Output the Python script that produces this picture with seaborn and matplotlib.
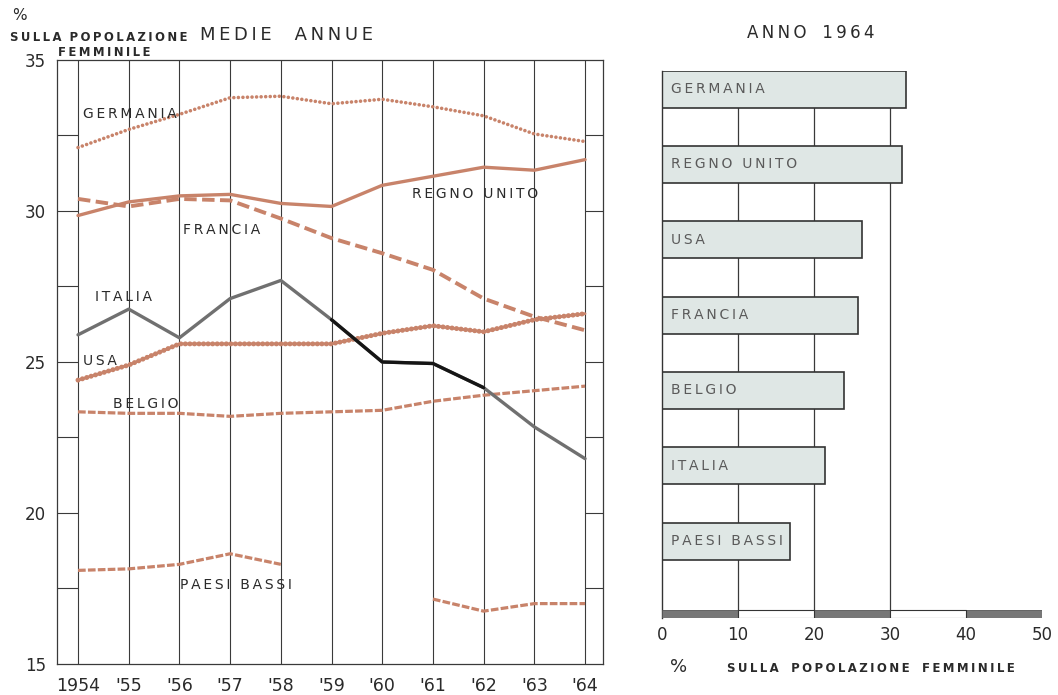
import numpy as np
import pandas as pd
import matplotlib
matplotlib.use("Agg")
import matplotlib.pyplot as plt
import seaborn as sns

# Data
years = [1954, 1955, 1956, 1957, 1958, 1959, 1960, 1961, 1962, 1963, 1964]
year_labels = ["1954", "'55", "'56", "'57", "'58", "'59", "'60", "'61", "'62", "'63", "'64"]

germania = [32.1, 32.7, 33.2, 33.75, 33.8, 33.55, 33.7, 33.45, 33.15, 32.55, 32.3]
regno_unito = [29.85, 30.3, 30.5, 30.55, 30.25, 30.15, 30.85, 31.15, 31.45, 31.35, 31.7]
francia = [30.4, 30.15, 30.4, 30.35, 29.75, 29.1, 28.6, 28.05, 27.1, 26.5, 26.05]
usa = [24.4, 24.9, 25.6, 25.6, 25.6, 25.6, 25.95, 26.2, 26.0, 26.4, 26.6]
italia = [25.9, 26.75, 25.8, 27.1, 27.7, 26.4, 25.0, 24.95, 24.15, 22.85, 21.8]
belgio = [23.35, 23.3, 23.3, 23.2, 23.3, 23.35, 23.4, 23.7, 23.9, 24.05, 24.2]
paesi_bassi = [18.1, 18.15, 18.3, 18.65, 18.3, np.nan, np.nan, 17.15, 16.75, 17.0, 17.0]

bar_countries = ["GERMANIA", "REGNO UNITO", "USA", "FRANCIA", "BELGIO", "ITALIA", "PAESI BASSI"]
bar_values = [32.1, 31.6, 26.3, 25.8, 23.9, 21.5, 16.8]

SALMON = "#c8836a"
GREY_LINE = "#707070"
INK = "#2a2a2a"
BAR_FILL = "#dfe7e5"


def track(s, sep="\u2009"):
    """Fake letter spacing with thin spaces"""
    return sep.join(s)


sns.set_theme(style="white")
plt.rcParams["font.family"] = ["DejaVu Sans"]

fig = plt.figure(figsize=(10.58, 6.95), dpi=100)

# ---------------- left: yearly averages ----------------
ax = fig.add_axes([0.0539, 0.0446, 0.5161, 0.8691])
x_lo, x_hi = 1953.586, 1964.355
ax.set_xlim(x_lo, x_hi)
ax.set_ylim(15, 35)

for yr in years:
    ax.axvline(yr, color="#3a3a3a", lw=0.8, zorder=1)
levels = np.arange(17.5, 35, 2.5)
ax.hlines(levels, x_lo, years[0], color="#3a3a3a", lw=0.8, zorder=1)
ax.hlines(levels, years[-1], x_hi, color="#3a3a3a", lw=0.8, zorder=1)

# Regno Unito - solid
sns.lineplot(x=years, y=regno_unito, ax=ax, color=SALMON, lw=2.4, zorder=3)
# Germania - fine dots
sns.lineplot(x=years, y=germania, ax=ax, color=SALMON, lw=2.6,
             linestyle=(0, (0.01, 1.25)), dash_capstyle="round", zorder=3)
# Francia - long dashes
sns.lineplot(x=years, y=francia, ax=ax, color=SALMON, lw=2.8,
             linestyle=(0, (3.2, 1.4)), zorder=3)
# USA - beaded line
sns.lineplot(x=years, y=usa, ax=ax, color=SALMON, lw=2.0, zorder=3)
sns.lineplot(x=years, y=usa, ax=ax, color=SALMON, lw=3.6,
             linestyle=(0, (0.01, 0.9)), dash_capstyle="round", zorder=3)
# Belgio - short dashes
sns.lineplot(x=years, y=belgio, ax=ax, color=SALMON, lw=2.3,
             linestyle=(0, (2.4, 0.7)), zorder=3)
# Italia - grey, darker in the middle
sns.lineplot(x=years, y=italia, ax=ax, color=GREY_LINE, lw=2.4, zorder=4)
sns.lineplot(x=years[5:9], y=italia[5:9], ax=ax, color="#151515", lw=2.4, zorder=4)
# Paesi Bassi - broken series
pb = pd.DataFrame({"anno": years, "valore": paesi_bassi})
pb["tratto"] = pb["valore"].isna().cumsum()
pb = pb.dropna()
sns.lineplot(data=pb, x="anno", y="valore", units="tratto", estimator=None, ax=ax,
             color=SALMON, lw=2.3, linestyle=(0, (2.4, 0.7)), zorder=3)

series_labels = [
    ("GERMANIA", 1954.10, 33.2),
    ("REGNO UNITO", 1960.58, 30.56),
    ("FRANCIA", 1956.07, 29.37),
    ("ITALIA", 1954.33, 27.15),
    ("USA", 1954.10, 25.03),
    ("BELGIO", 1954.69, 23.6),
    ("PAESI BASSI", 1956.02, 17.6),
]
for name, lx, ly in series_labels:
    ax.text(lx, ly, track(name), fontsize=10, color=INK, ha="left", va="center", zorder=5)

ax.set_xticks(years)
ax.set_xticklabels(year_labels, fontsize=12.5, color=INK)
ax.set_yticks([15, 20, 25, 30, 35])
ax.set_yticklabels(["15", "20", "25", "30", "35"], fontsize=12, color=INK)
ax.tick_params(axis="x", length=0, pad=9)
ax.tick_params(axis="y", length=0, pad=8)
ax.set_xlabel("")
ax.set_ylabel("")
for sp in ax.spines.values():
    sp.set_color("#3a3a3a")
    sp.set_linewidth(0.9)

fig.text(19 / 1058, 1 - 15 / 695, "%", fontsize=11, color=INK, ha="center", va="center")
fig.text(10 / 1058, 1 - 37.5 / 695, track("SULLA") + "  " + track("POPOLAZIONE"),
         fontsize=8.4, fontweight="bold", color=INK, ha="left", va="center")
fig.text(58 / 1058, 1 - 52 / 695, track("FEMMINILE"),
         fontsize=8.4, fontweight="bold", color=INK, ha="left", va="center")
fig.text(200 / 1058, 1 - 35 / 695, track("MEDIE") + "    " + track("ANNUE"),
         fontsize=13, color=INK, ha="left", va="center")

# ---------------- right: year 1964 ----------------
ax2 = fig.add_axes([0.6257, 0.1108, 0.3592, 0.7875])
for g in [10, 20, 30]:
    ax2.axvline(g, color="#3a3a3a", lw=0.9, zorder=0)
sns.barplot(x=bar_values, y=bar_countries, orient="h", ax=ax2, color=BAR_FILL,
            edgecolor="#333333", linewidth=1.2, width=0.49, saturation=1, zorder=2)
for i, name in enumerate(bar_countries):
    ax2.text(1.2, i, track(name), fontsize=10, color="#5a5a5a", ha="left", va="center", zorder=3)

ax2.set_xlim(0, 50)
ax2.set_ylim(7.02, -0.245)

scale_edges = [0, 10, 20, 30, 40, 50]
dark = [(scale_edges[k], 10) for k in (0, 2, 4)]
light = [(scale_edges[k], 10) for k in (1, 3)]
ax2.broken_barh(dark, (6.915, 0.105), facecolors="#777777", edgecolor="#555555", lw=0.6, zorder=3)
ax2.broken_barh(light, (6.915, 0.105), facecolors="white", edgecolor="#333333", lw=0.8, zorder=3)

ax2.set_xticks(scale_edges)
ax2.set_xticklabels([str(v) for v in scale_edges], fontsize=12, color=INK)
ax2.set_yticks([])
ax2.tick_params(axis="x", length=0, pad=6)
ax2.set_xlabel("")
ax2.set_ylabel("")
for side in ["top", "right", "bottom"]:
    ax2.spines[side].set_visible(False)
ax2.spines["left"].set_color("#333333")
ax2.spines["left"].set_linewidth(1.0)

fig.text(811 / 1058, 1 - 33 / 695, track("ANNO") + "   " + track("1964"),
         fontsize=12, color=INK, ha="center", va="center")
fig.text(679 / 1058, 1 - 667 / 695, "%", fontsize=13, color=INK, ha="center", va="center")
fig.text(727 / 1058, 1 - 668 / 695,
         "   ".join(track(w) for w in ["SULLA", "POPOLAZIONE", "FEMMINILE"]),
         fontsize=8.5, fontweight="bold", color=INK, ha="left", va="center")

fig.savefig("out.png", dpi=100, facecolor="white")
